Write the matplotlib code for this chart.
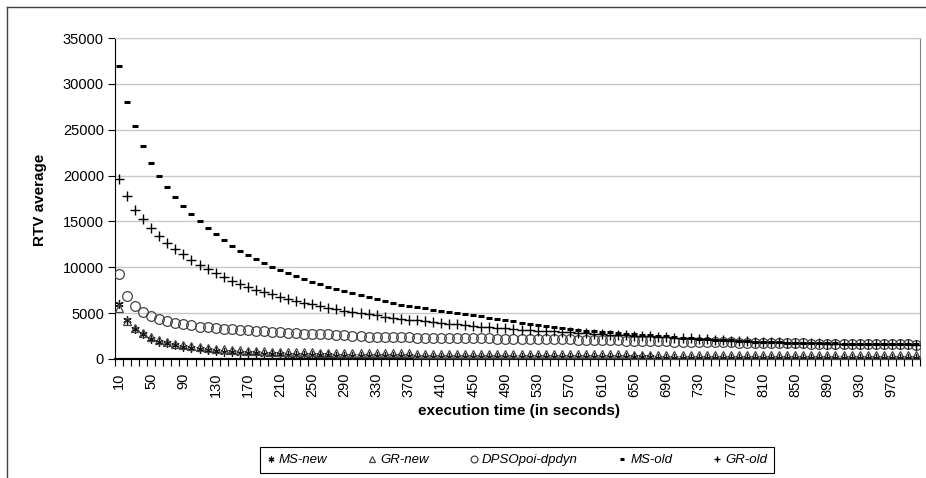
import matplotlib
matplotlib.use("Agg")
import matplotlib.pyplot as plt
from matplotlib.lines import Line2D

plt.rcParams["font.family"] = ["Liberation Sans", "DejaVu Sans"]

# execution time categories (seconds)
times = list(range(10, 1001, 10))

ms_new = [5950, 4300, 3300, 2750, 2200, 1900, 1700, 1500, 1330, 1180,
          1060, 960, 880, 810, 750, 700, 650, 610, 570, 540,
          510, 485, 460, 440, 420, 400, 385, 370, 355, 340,
          330, 320, 310, 300, 290, 282, 275, 268, 261, 255,
          249, 243, 238, 233, 228, 223, 219, 215, 211, 207,
          203, 200, 197, 194, 191, 188, 185, 182, 180, 178,
          176, 174, 172, 170, 168, 166, 164, 162, 160, 158,
          156, 154, 152, 150, 149, 148, 147, 146, 145, 144,
          143, 142, 141, 140, 139, 138, 137, 136, 135, 134,
          133, 132, 131, 130, 129, 128, 127, 126, 125, 124]

gr_new = [5600, 4150, 3350, 2800, 2350, 2050, 1820, 1640, 1490, 1370,
          1260, 1170, 1100, 1040, 990, 940, 900, 860, 830, 800,
          780, 760, 740, 720, 710, 700, 690, 680, 670, 660,
          650, 640, 630, 620, 615, 610, 600, 595, 590, 585,
          580, 575, 570, 565, 560, 555, 550, 545, 540, 535,
          530, 528, 525, 522, 519, 516, 513, 510, 507, 504,
          501, 498, 495, 492, 489, 486, 483, 480, 478, 476,
          474, 472, 470, 468, 466, 464, 462, 460, 458, 456,
          454, 452, 450, 448, 446, 444, 442, 440, 438, 436,
          434, 432, 430, 428, 426, 424, 422, 420, 418, 416]

dpso = [9270, 6880, 5790, 5170, 4720, 4380, 4130, 3960, 3820, 3680,
        3540, 3460, 3390, 3320, 3250, 3180, 3130, 3070, 3010, 2950,
        2900, 2860, 2820, 2780, 2750, 2720, 2680, 2630, 2590, 2540,
        2460, 2440, 2420, 2400, 2380, 2360, 2350, 2340, 2330, 2310,
        2300, 2290, 2280, 2270, 2260, 2250, 2240, 2230, 2220, 2210,
        2200, 2190, 2180, 2170, 2160, 2150, 2130, 2110, 2090, 2080,
        2060, 2040, 2020, 2010, 1990, 1980, 1960, 1940, 1920, 1900,
        1880, 1870, 1850, 1840, 1830, 1810, 1800, 1790, 1770, 1760,
        1750, 1740, 1730, 1720, 1710, 1700, 1690, 1680, 1670, 1660,
        1650, 1640, 1630, 1620, 1610, 1600, 1600, 1590, 1590, 1580]

ms_old = [31900, 28000, 25400, 23200, 21400, 19950, 18750, 17700, 16700, 15800,
          15000, 14250, 13600, 12970, 12320, 11800, 11340, 10940, 10500, 10070,
          9710, 9410, 9090, 8760, 8440, 8150, 7890, 7670, 7420, 7170,
          6960, 6740, 6520, 6300, 6090, 5940, 5790, 5650, 5520, 5390,
          5260, 5130, 5000, 4880, 4760, 4640, 4500, 4390, 4280, 4170,
          3950, 3850, 3740, 3630, 3520, 3400, 3290, 3190, 3100, 3020,
          2950, 2890, 2830, 2770, 2700, 2640, 2580, 2520, 2460, 2400,
          2340, 2280, 2220, 2170, 2120, 2070, 2020, 1980, 1940, 1900,
          1870, 1840, 1810, 1790, 1770, 1750, 1730, 1720, 1710, 1700,
          1690, 1680, 1670, 1660, 1650, 1640, 1630, 1620, 1610, 1600]

gr_old = [19600, 17750, 16300, 15250, 14240, 13400, 12680, 11960, 11450, 10800,
          10250, 9820, 9350, 8980, 8540, 8190, 7830, 7530, 7320, 7070,
          6800, 6590, 6370, 6150, 5980, 5790, 5610, 5430, 5280, 5140,
          5000, 4890, 4780, 4630, 4520, 4410, 4300, 4200, 4110, 4020,
          3930, 3850, 3770, 3690, 3610, 3540, 3470, 3400, 3330, 3270,
          3210, 3150, 3100, 3050, 3000, 2950, 2900, 2850, 2800, 2750,
          2710, 2670, 2630, 2590, 2550, 2510, 2470, 2430, 2390, 2340,
          2290, 2240, 2190, 2140, 2090, 2050, 2010, 1970, 1930, 1890,
          1860, 1830, 1800, 1780, 1760, 1740, 1720, 1700, 1690, 1680,
          1670, 1660, 1650, 1640, 1630, 1620, 1610, 1600, 1590, 1580]

W, H = 926, 478
fig = plt.figure(figsize=(W / 100, H / 100), dpi=100)
ax = fig.add_axes([115 / W, 1 - 359 / H, 805 / W, 321 / H])

x = list(range(len(times)))
ax.plot(x, ms_new, ls="none", marker=(6, 2, 0), ms=6, mec="#111111", mew=0.9,
        label="MS-new", zorder=3)
ax.plot(x, gr_new, ls="none", marker="^", ms=5.5, mfc="none", mec="#444444", mew=0.9,
        label="GR-new", zorder=3)
ax.plot(x, dpso, ls="none", marker="o", ms=7, mfc="none", mec="#444444", mew=0.9,
        label="DPSOpoi-dpdyn", zorder=3)
ax.plot(x, ms_old, ls="none", marker="_", ms=5, mec="black", mew=2.2,
        label="MS-old", zorder=3)
ax.plot(x, gr_old, ls="none", marker="+", ms=7, mec="black", mew=1,
        label="GR-old", zorder=3)

# axes
ax.set_xlim(-0.5, len(times) - 0.5)
ax.set_ylim(0, 35000)
ax.set_yticks(range(0, 35001, 5000))
ax.yaxis.grid(True, color="#c8c8c8", lw=1)
ax.set_axisbelow(True)
ax.tick_params(axis="y", length=5, labelsize=10.5, pad=3)

ax.set_xticks([i - 0.5 for i in range(len(times) + 1)])
ax.set_xticklabels([])
ax.set_xticks(x[::4], minor=True)
ax.set_xticklabels([str(t) for t in times[::4]], minor=True, rotation=90)
ax.tick_params(axis="x", which="major", length=5, width=0.8)
ax.tick_params(axis="x", which="minor", length=0, pad=9.5, labelsize=10.5)

for side in ["left", "bottom"]:
    ax.spines[side].set_color("black")
ax.spines["bottom"].set_linewidth(1.6)
ax.spines["top"].set_color("#c8c8c8")
ax.spines["right"].set_color("#808080")

fig.text(40 / W, 1 - 200 / H, "RTV average", rotation=90, ha="center", va="center",
         fontsize=11, fontweight="bold")
fig.text(519 / W, 1 - 411 / H, "execution time (in seconds)", ha="center", va="center",
         fontsize=11, fontweight="bold")

leg = fig.legend(loc="center", bbox_to_anchor=(517 / W, 1 - 460 / H), ncol=5,
                 fancybox=False, edgecolor="black", framealpha=1,
                 prop={"style": "italic", "size": 9.5}, handlelength=0.6,
                 handletextpad=0.3, columnspacing=3.1, markerscale=0.7,
                 borderpad=0.5)
leg.get_frame().set_linewidth(0.8)

# outer chart border
fig.add_artist(Line2D([7 / W, 1], [1 - 7 / H, 1 - 7 / H], color="#404040", lw=1,
                      transform=fig.transFigure))
fig.add_artist(Line2D([7 / W, 7 / W], [1 - 7 / H, 0], color="#404040", lw=1,
                      transform=fig.transFigure))

fig.savefig("out.png", dpi=100)
